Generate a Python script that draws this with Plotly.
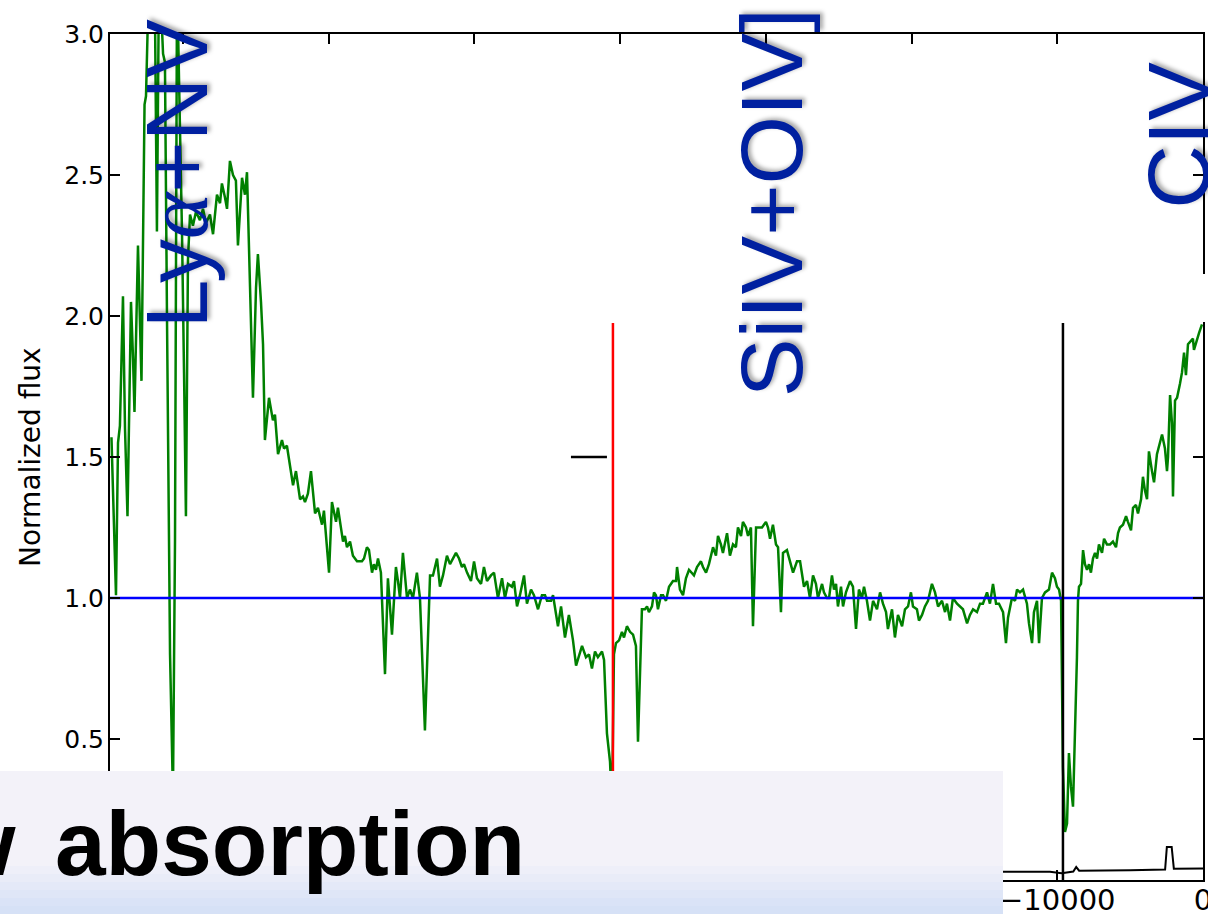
import plotly.graph_objects as go

# ---------------- data ----------------
velocity = [
    -74900, -74730, -74590, -74450, -74320, -74110, -73970, -73800, -73560, -73420,
    -73320, -73080, -72840, -72630, -72530, -72330, -72120, -71910, -71780, -71640,
    -71500, -71360, -71230, -71090, -70880, -70680, -70540, -70400, -70200, -70060,
    -69920, -69790, -69650, -69510, -69310, -69100, -68830, -68620, -68410, -68140,
    -67930, -67660, -67450, -67320, -67110, -66970, -66770, -66560, -66360, -66220,
    -65940, -65740, -65600, -65400, -65190, -64980, -64850, -64640, -64500, -64370,
    -64090, -63820, -63680, -63470, -63200, -63060, -62860, -62440, -62240, -61960,
    -61760, -61620, -61420, -61210, -60930, -60730, -60450, -60320, -59970, -59770,
    -59490, -59360, -59010, -58880, -58740, -58530, -58330, -58050, -57710, -57570,
    -57370, -57230, -57020, -56890, -56750, -56610, -56410, -56130, -55930, -55650,
    -55380, -55240, -55100, -54900, -54620, -54420, -54210, -53940, -53730, -53390,
    -53040, -52840, -52560, -52360, -52150, -51880, -51670, -51260, -51050, -50850,
    -50710, -50500, -50230, -50020, -49820, -49540, -49340, -49130, -48860, -48650,
    -48380, -48100, -47900, -47690, -47420, -47280, -47070, -46870, -46590, -46390,
    -46110, -45910, -45630, -45360, -45150, -45010, -44740, -44600, -44260, -44050,
    -43780, -43510, -43230, -43020, -42890, -42610, -42340, -42130, -41930, -41720,
    -41520, -41240, -41100, -40900, -40690, -40550, -40420, -40280, -40070, -39870,
    -39730, -39530, -39320, -39110, -38910, -38770, -38500, -38290, -38150, -38020,
    -37810, -37670, -37540, -37400, -37190, -37050, -36850, -36640, -36370, -36160,
    -36090, -35890, -35680, -35480, -35270, -35070, -34930, -34720, -34450, -34310,
    -34100, -33900, -33620, -33420, -33280, -33080, -32940, -32660, -32460, -32250,
    -32050, -31910, -31700, -31570, -31360, -31220, -31020, -30880, -30670, -30470,
    -30260, -29990, -29850, -29710, -29510, -29300, -29160, -28960, -28820, -28550,
    -28410, -28130, -27860, -27650, -27380, -27170, -26970, -26760, -26560, -26420,
    -26140, -26010, -25800, -25660, -25460, -25320, -25180, -25050, -24840, -24700,
    -24500, -24220, -24020, -23810, -23610, -23400, -23260, -23060, -22850, -22640,
    -22370, -22160, -21960, -21750, -21620, -21340, -21140, -20930, -20650, -20450,
    -20240, -20040, -19900, -19630, -19490, -19280, -19080, -18870, -18600, -18390,
    -18180, -17910, -17700, -17570, -17360, -17160, -16880, -16670, -16470, -16190,
    -15990, -15780, -15510, -15300, -15100, -14820, -14620, -14410, -14200, -14000,
    -13720, -13520, -13380, -13110, -12900, -12760, -12560, -12350, -12080, -11940,
    -11730, -11600, -11390, -11250, -11050, -10840, -10570, -10360, -10160, -10020,
    -9880, -9740, -9680, -9610, -9470, -9330, -9200, -9060, -8920, -8780,
    -8650, -8580, -8510, -8370, -8230, -8100, -7960, -7820, -7690, -7550,
    -7410, -7270, -7140, -6930, -6790, -6590, -6380, -6180, -5970, -5830,
    -5700, -5490, -5280, -5150, -4940, -4800, -4600, -4460, -4250, -4120,
    -3980, -3840, -3710, -3500, -3360, -3160, -3020, -2810, -2610, -2470,
    -2400, -2260, -2130, -2060, -1920, -1780, -1580, -1440, -1300, -1170,
    -1030, -890, -690, -620, -410, -270, -70,
]
flux = [
    1.57, 1.30, 1.01, 1.55, 1.61, 2.07, 1.60, 1.29, 2.05, 1.85,
    1.66, 2.25, 1.77, 2.75, 2.78, 3.20, 3.35, 3.05, 2.30, 3.20,
    3.10, 2.93, 2.90, 2.00, 0.80, 0.30, 1.20, 3.20, 2.68, 2.30,
    1.80, 1.29, 2.20, 2.36, 2.32, 2.37, 2.34, 2.38, 2.33, 2.36,
    2.29, 2.43, 2.40, 2.47, 2.42, 2.38, 2.55, 2.50, 2.48, 2.25,
    2.49, 2.43, 2.51, 2.10, 1.71, 2.10, 2.22, 2.05, 1.90, 1.56,
    1.71, 1.63, 1.65, 1.51, 1.56, 1.53, 1.54, 1.40, 1.45, 1.35,
    1.36, 1.34, 1.37, 1.45, 1.30, 1.32, 1.26, 1.31, 1.09, 1.34,
    1.27, 1.32, 1.20, 1.22, 1.18, 1.20, 1.15, 1.13, 1.13, 1.14,
    1.18, 1.17, 1.09, 1.12, 1.10, 1.14, 1.09, 0.73, 1.07, 0.87,
    1.11, 1.06, 1.00, 1.16, 1.00, 1.03, 1.00, 1.09, 1.00, 0.53,
    1.08, 1.08, 1.14, 1.04, 1.08, 1.15, 1.12, 1.16, 1.14, 1.11,
    1.12, 1.09, 1.06, 1.13, 1.07, 1.05, 1.11, 1.06, 1.08, 1.09,
    1.00, 1.07, 1.00, 1.05, 1.04, 1.06, 0.97, 1.01, 1.08, 0.98,
    1.03, 1.01, 0.96, 1.01, 1.01, 0.99, 0.99, 1.01, 0.90, 0.97,
    0.86, 0.94, 0.85, 0.76, 0.78, 0.83, 0.79, 0.80, 0.75, 0.81,
    0.79, 0.81, 0.78, 0.52, 0.42, 0.25, 0.80, 0.84, 0.85, 0.88,
    0.86, 0.90, 0.88, 0.87, 0.83, 0.49, 0.96, 0.96, 0.97, 0.95,
    0.97, 1.02, 1.01, 0.96, 1.01, 1.01, 0.99, 1.04, 1.06, 1.06,
    1.11, 1.03, 1.01, 1.07, 1.10, 1.09, 1.08, 1.11, 1.13, 1.11,
    1.09, 1.12, 1.18, 1.15, 1.22, 1.19, 1.16, 1.23, 1.15, 1.19,
    1.18, 1.25, 1.22, 1.27, 1.25, 1.22, 1.25, 0.90, 1.25, 1.25,
    1.25, 1.27, 1.25, 1.21, 1.26, 1.19, 1.18, 0.95, 1.16, 1.17,
    1.14, 1.09, 1.13, 1.13, 1.04, 1.06, 1.00, 1.08, 1.05, 1.00,
    1.05, 1.02, 1.00, 1.00, 1.08, 1.03, 1.05, 0.97, 1.04, 0.97,
    1.02, 1.06, 1.04, 0.89, 1.03, 1.00, 1.04, 0.99, 0.92, 0.99,
    0.96, 1.02, 0.98, 0.95, 0.89, 0.96, 0.86, 0.94, 0.90, 0.96,
    0.97, 1.02, 0.97, 0.96, 0.92, 0.94, 0.97, 0.99, 1.05, 1.02,
    0.97, 0.99, 0.95, 0.98, 0.92, 1.00, 0.98, 0.97, 0.96, 0.91,
    0.94, 0.96, 0.95, 0.98, 0.98, 1.02, 0.98, 1.05, 0.98, 0.98,
    0.95, 0.84, 0.93, 1.00, 0.99, 1.03, 1.02, 1.03, 0.98, 0.91,
    0.84, 0.95, 0.99, 0.84, 1.00, 1.02, 1.03, 1.09, 1.07, 1.04,
    1.03, 0.99, 0.72, 0.40, 0.17, 0.20, 0.45, 0.33, 0.26, 0.50,
    0.79, 0.99, 1.04, 1.05, 1.17, 1.12, 1.10, 1.12, 1.09, 1.14,
    1.16, 1.14, 1.19, 1.16, 1.21, 1.19, 1.19, 1.20, 1.18, 1.23,
    1.25, 1.26, 1.29, 1.27, 1.24, 1.32, 1.33, 1.30, 1.35, 1.43,
    1.38, 1.35, 1.52, 1.45, 1.41, 1.51, 1.54, 1.58, 1.53, 1.45,
    1.50, 1.72, 1.62, 1.36, 1.70, 1.71, 1.76, 1.80, 1.87, 1.79,
    1.90, 1.91, 1.92, 1.88, 1.92, 1.94, 1.97,
]

err_velocity = [-75000, -60000, -45000, -30000, -20000, -14000, -10500, -9700, -9400,
                -8900, -8700, -8500, -5000, -2600, -2480, -2150, -2000, -1000, 0]
err_flux = [0.030, 0.030, 0.030, 0.030, 0.029, 0.029, 0.029, 0.024, 0.027,
            0.030, 0.046, 0.033, 0.035, 0.037, 0.117, 0.117, 0.040, 0.040, 0.041]

continuum_level = 1.0
red_marker_v = -40490
black_marker_v = -9610
marker_top = 1.975
dash_velocity = [-43370, -40900]
dash_flux = 1.5

x_range = [-75000, 0]
y_range = [0, 3.0]

line_labels = [
    'Ly<span style="font-family:Liberation Serif;font-style:italic">α</span>+NV',
    "SiIV+OIV]",
    "CIV",
]
y_title = "Normalized flux"
banner_head = "Narrow"
banner_tail = "absorption"

# ---------------- figure ----------------
fig = go.Figure()
fig.add_trace(go.Scatter(x=err_velocity, y=err_flux, mode="lines",
                         line=dict(color="black", width=2), hoverinfo="skip"))
fig.add_trace(go.Scatter(x=velocity, y=flux, mode="lines",
                         line=dict(color="#008000", width=2.5)))
fig.add_trace(go.Scatter(x=x_range, y=[continuum_level, continuum_level], mode="lines",
                         line=dict(color="#0000ff", width=2.5)))
fig.add_trace(go.Scatter(x=[red_marker_v, red_marker_v], y=[0, marker_top], mode="lines",
                         line=dict(color="#ff0000", width=2.5)))
fig.add_trace(go.Scatter(x=[black_marker_v, black_marker_v], y=[0, marker_top], mode="lines",
                         line=dict(color="black", width=2.5)))
fig.add_trace(go.Scatter(x=dash_velocity, y=[dash_flux, dash_flux], mode="lines",
                         line=dict(color="black", width=2.5)))

axis_common = dict(
    showgrid=False, zeroline=False, showline=True, linecolor="black", linewidth=2,
    mirror="ticks", ticks="inside", ticklen=10, tickwidth=1.5, tickcolor="black",
    automargin=False, ticklabeloverflow="allow",
)
fig.update_layout(
    template="none",
    width=1208, height=914,
    margin=dict(l=110, r=5, t=34, b=34, autoexpand=False),
    paper_bgcolor="white", plot_bgcolor="white",
    showlegend=False,
    xaxis=dict(range=x_range, dtick=10000, tick0=0, tickformat="d", ticklabelstandoff=-7,
               tickfont=dict(family="DejaVu Sans", size=29, color="black"), **axis_common),
    yaxis=dict(range=y_range, dtick=0.5, tick0=0, tickformat=".1f", ticklabelstandoff=-1,
               tickfont=dict(family="DejaVu Sans", size=25, color="black"), **axis_common),
)

def py2paper(py):
    return (880 - py) / 846

# white glow behind the CIV label interrupting the right frame (decorative)
fig.add_shape(type="rect", xref="paper", yref="paper",
              x0=(1188 - 110) / 1093, x1=(1210 - 110) / 1093,
              y0=py2paper(322), y1=py2paper(274),
              fillcolor="white", line=dict(width=0), layer="above")

# banner with gradient (decorative)
bx0, bx1 = -110 / 1093, (1003 - 110) / 1093
strips = [
    (771, "#f3f2f9"), (866, "#eeeff9"), (874, "#e9ecf8"), (882, "#e4e9f8"),
    (890, "#dfe6f7"), (898, "#dae3f7"), (906, "#d6e1f6"),
]
for top, col in strips:
    fig.add_shape(type="rect", xref="paper", yref="paper", x0=bx0, x1=bx1,
                  y0=py2paper(914), y1=py2paper(top), fillcolor=col,
                  line=dict(width=0), layer="above")

label_font = dict(family="Liberation Sans", size=88, color="#0020a0",
                  shadow="2px 3px 4px rgba(0,0,0,0.35)")
label_pos = [(0.0613, 0.835), (0.6048, 0.800), (0.977, 0.8806)]
for txt, (lx, ly) in zip(line_labels, label_pos):
    fig.add_annotation(text=txt, xref="paper", yref="paper", x=lx, y=ly,
                       xanchor="center", yanchor="middle", textangle=-90,
                       showarrow=False, font=label_font)

fig.add_annotation(text=y_title, xref="paper", yref="paper", x=-0.0732, y=0.5,
                   xanchor="center", yanchor="middle", textangle=-90, showarrow=False,
                   font=dict(family="DejaVu Sans", size=28, color="black"))

banner_font = dict(family="Liberation Sans", size=91, color="black", weight="bold")
fig.add_annotation(text=banner_tail, xref="paper", yref="paper",
                   x=(527 - 110) / 1093, y=py2paper(843), xanchor="right", yanchor="middle",
                   showarrow=False, font=banner_font)
fig.add_annotation(text=banner_head, xref="paper", yref="paper",
                   x=(18 - 110) / 1093, y=py2paper(843), xanchor="right", yanchor="middle",
                   showarrow=False, font=banner_font)

fig.write_html("out.html")
